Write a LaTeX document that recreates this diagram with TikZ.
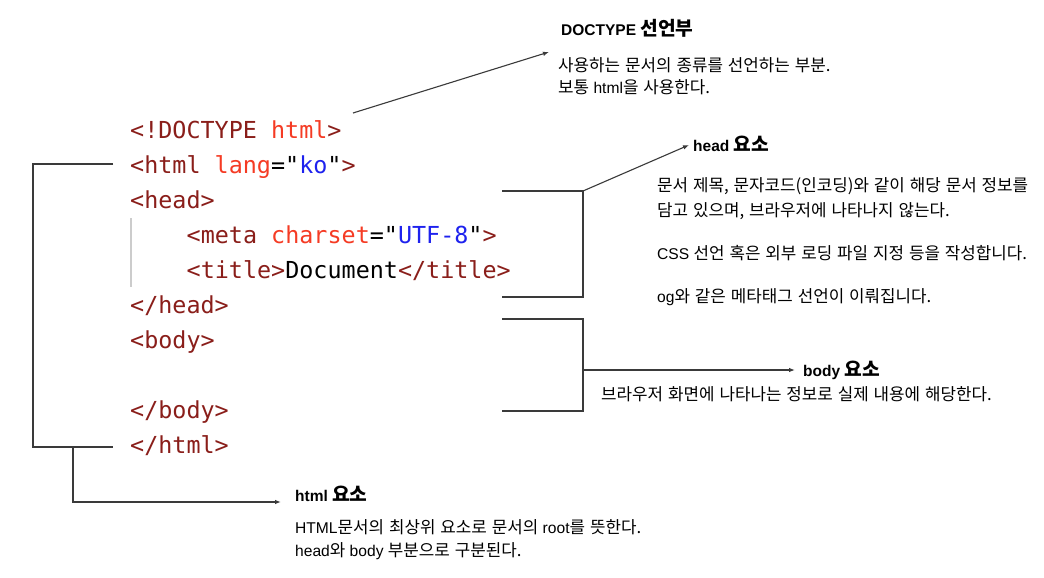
\documentclass[tikz,border=0pt]{standalone}
\usepackage{fontspec}
\setmainfont{Liberation Sans}
\newfontfamily\kr{Noto Sans CJK KR}[Scale=1.08,WordSpace=1.3]
\newfontfamily\codefont{DejaVu Sans Mono}
\usetikzlibrary{arrows.meta}
\definecolor{tagc}{HTML}{8A1E1A}
\definecolor{attrc}{HTML}{F53B24}
\definecolor{valc}{HTML}{1E22EE}
\definecolor{linec}{HTML}{3A3A3A}
\newcommand{\K}[1]{{\kr #1}}
\newcommand{\KT}[1]{{\fontsize{17.8}{21}\kr #1}}
\newcommand{\tg}[1]{\textcolor{tagc}{#1}}
\newcommand{\at}[1]{\textcolor{attrc}{#1}}
\newcommand{\vl}[1]{\textcolor{valc}{#1}}
\tikzset{
  codeline/.style={anchor=base west, inner sep=0pt, font=\fontsize{23.4}{28}\codefont},
  title/.style={anchor=base west, inner sep=0pt, font=\fontsize{15.5}{19}\selectfont\bfseries},
  desc/.style={anchor=base west, inner sep=0pt, font=\fontsize{15.6}{18}\selectfont},
  conn/.style={draw=linec, line width=1.1pt},
  arr/.style={conn, -{Latex[length=6pt,width=4.5pt]}},
  guide/.style={draw=black!20, line width=1.5pt}
}
\begin{document}
\begin{tikzpicture}[x=1pt,y=-1pt]
\useasboundingbox (0,0) rectangle (1044,578);
\fill[white] (0,0) rectangle (1044,578);

% code
\node[codeline] (l1) at (130,138) {\tg{<!DOCTYPE }\at{html}\tg{>}};
\node[codeline] (l2) at (130,173.1) {\tg{<html }\at{lang}="\vl{ko}"\tg{>}};
\node[codeline] (l3) at (130,208.2) {\tg{<head>}};
\node[codeline] (l4) at (186.5,243.3) {\tg{<meta }\at{charset}="\vl{UTF-8}"\tg{>}};
\node[codeline] (l5) at (186.5,278.4) {\tg{<title>}Document\tg{</title>}};
\node[codeline] (l6) at (130,313.5) {\tg{</head>}};
\node[codeline] (l7) at (130,348.6) {\tg{<body>}};
\node[codeline] (l8) at (130,418.8) {\tg{</body>}};
\node[codeline] (l9) at (130,453.9) {\tg{</html>}};

% indent guide
\coordinate (g1) at (131,218);
\coordinate (g2) at (131,287);
\draw[guide] (g1) -- (g2);

% DOCTYPE annotation
\node[title] (t1) at (561,35.5) {DOCTYPE \KT{선언부}};
\node[desc] (d1a) at (558,71.5) {\K{사용하는 문서의 종류를 선언하는 부분.}};
\node[desc] (d1b) at (558,93) {\K{보통} html\K{을 사용한다.}};
\coordinate (a1s) at (353,113);
\coordinate (a1e) at (549,52);
\draw[arr] (a1s) -- (a1e);

% head annotation
\node[title] (t2) at (693,151.5) {head \KT{요소}};
\node[desc] (d2a) at (657,191.5) {\K{문서 제목, 문자코드(인코딩)와 같이 해당 문서 정보를}};
\node[desc] (d2b) at (657,216.5) {\K{담고 있으며, 브라우저에 나타나지 않는다.}};
\node[desc] (d2c) at (657,259.5) {CSS \K{선언 혹은 외부 로딩 파일 지정 등을 작성합니다.}};
\node[desc] (d2d) at (657,302.5) {og\K{와 같은 메타태그 선언이 이뤄집니다.}};
\coordinate (h1) at (502,191);
\coordinate (h2) at (583,191);
\coordinate (h3) at (583,297);
\coordinate (h4) at (502,297);
\coordinate (h5) at (689,145);
\draw[conn] (h1) -- (h2) -- (h3) -- (h4);
\draw[arr] (h2) -- (h5);

% body annotation
\node[title] (t3) at (803,376) {body \KT{요소}};
\node[desc] (d3) at (601,400) {\K{브라우저 화면에 나타나는 정보로 실제 내용에 해당한다.}};
\coordinate (b1) at (502,319);
\coordinate (b2) at (583,319);
\coordinate (b3) at (583,411);
\coordinate (b4) at (502,411);
\coordinate (b5) at (583,370);
\coordinate (b6) at (795,370);
\draw[conn] (b1) -- (b2) -- (b3) -- (b4);
\draw[arr] (b5) -- (b6);

% html annotation
\node[title] (t4) at (295,501.5) {html \KT{요소}};
\node[desc] (d4a) at (295,533) {HTML\K{문서의 최상위 요소로 문서의} root\K{를 뜻한다.}};
\node[desc] (d4b) at (295,556) {head\K{와} body \K{부분으로 구분된다.}};
\coordinate (m1) at (113,164);
\coordinate (m2) at (33,164);
\coordinate (m3) at (33,447);
\coordinate (m4) at (113,447);
\coordinate (m5) at (73,447);
\coordinate (m6) at (73,502);
\coordinate (m7) at (281,502);
\draw[conn] (m1) -- (m2) -- (m3) -- (m4);
\draw[arr] (m5) -- (m6) -- (m7);
\end{tikzpicture}
\end{document}
